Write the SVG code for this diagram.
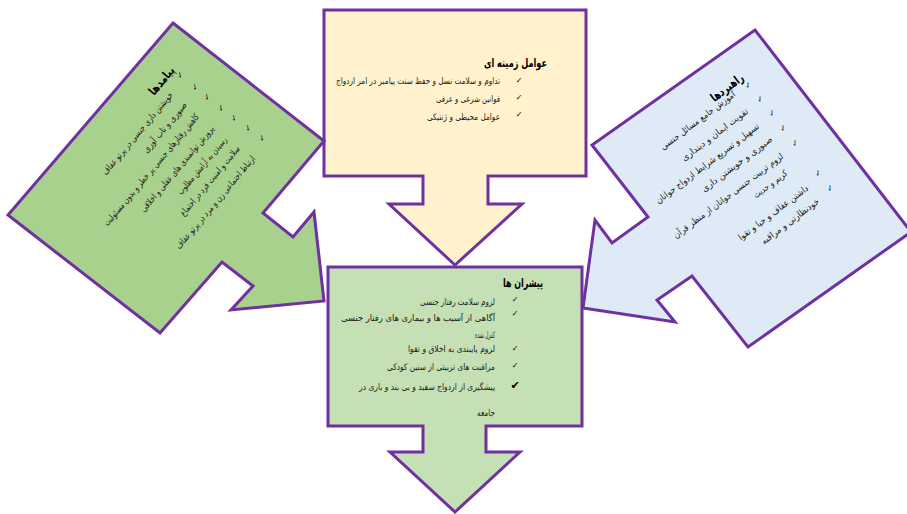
<svg xmlns="http://www.w3.org/2000/svg" width="907" height="514" viewBox="0 0 907 514">
<style>
.shape{stroke:#7030a0;stroke-width:3;stroke-linejoin:miter}
.t{font-family:"DejaVu Sans",sans-serif;font-size:9px;fill:#1a1a1a;text-anchor:end}
.h{font-family:"DejaVu Sans",sans-serif;font-size:12px;font-weight:bold;fill:#000;text-anchor:end}
.ck{font-family:"DejaVu Sans",sans-serif;font-size:8px;fill:#000;text-anchor:middle}
</style>
<rect width="907" height="514" fill="#fff"/>
<g id="node-top">
<polygon class="shape" fill="#fff2cc" points="324,10 586,10 586,176 488,176 488,204 522,204 455,265 389,204 423,204 423,176 324,176"/>
<text class="h" x="547" y="67" textLength="63" lengthAdjust="spacingAndGlyphs">عوامل زمینه ای</text>
<text class="ck" x="519" y="83">✓</text>
<text class="ck" x="519" y="100">✓</text>
<text class="ck" x="519" y="117">✓</text>
<text class="t" x="500" y="84" textLength="164" lengthAdjust="spacingAndGlyphs">تداوم و سلامت نسل و حفظ سنت پیامبر در امر ازدواج</text>
<text class="t" x="500" y="102" textLength="64" lengthAdjust="spacingAndGlyphs">قوانین شرعی و عرفی</text>
<text class="t" x="500" y="120" textLength="73" lengthAdjust="spacingAndGlyphs">عوامل محیطی و ژنتیکی</text>
</g>
<g id="node-left">
<polygon class="shape" fill="#a9d18e" points="173,23 324,141 263,213 293,237 314,212 324,301 231,310 253,286 222,262 160,333 8,215"/>
<g transform="translate(172,68) rotate(-50)"><text class="h" dy="0.35em" textLength="33" lengthAdjust="spacingAndGlyphs">پیامدها</text></g>
<g transform="translate(180,75) rotate(-50)"><text class="ck" dy="0.35em">✓</text></g>
<g transform="translate(195,87) rotate(-50)"><text class="ck" dy="0.35em">✓</text></g>
<g transform="translate(207,97) rotate(-50)"><text class="ck" dy="0.35em">✓</text></g>
<g transform="translate(221,108) rotate(-50)"><text class="ck" dy="0.35em">✓</text></g>
<g transform="translate(234,118) rotate(-50)"><text class="ck" dy="0.35em">✓</text></g>
<g transform="translate(248,128) rotate(-50)"><text class="ck" dy="0.35em">✓</text></g>
<g transform="translate(262,138) rotate(-50)"><text class="ck" dy="0.35em">✓</text></g>
<g transform="translate(171,93) rotate(-50)"><text class="t" dy="0.35em" textLength="105" lengthAdjust="spacingAndGlyphs">خویشتن داری جنسی در پرتو عفاف</text></g>
<g transform="translate(185,103) rotate(-50)"><text class="t" dy="0.35em" textLength="63" lengthAdjust="spacingAndGlyphs">صبوری و تاب آوری</text></g>
<g transform="translate(197,115) rotate(-50)"><text class="t" dy="0.35em" textLength="143" lengthAdjust="spacingAndGlyphs">کاهش رفتارهای جنسی پر خطر و بدون مسئولیت</text></g>
<g transform="translate(212,127) rotate(-50)"><text class="t" dy="0.35em" textLength="109" lengthAdjust="spacingAndGlyphs">پرورش توانمندی های عقلی و اخلاقی</text></g>
<g transform="translate(225,138) rotate(-50)"><text class="t" dy="0.35em" textLength="72" lengthAdjust="spacingAndGlyphs">رسیدن به آرامش مطلوب</text></g>
<g transform="translate(238,147) rotate(-50)"><text class="t" dy="0.35em" textLength="88" lengthAdjust="spacingAndGlyphs">سلامت و امنیت فرد در اجتماع</text></g>
<g transform="translate(253,157) rotate(-50)"><text class="t" dy="0.35em" textLength="118" lengthAdjust="spacingAndGlyphs">ارتباط اجتماعی زن و مرد در پرتو عفاف</text></g>
</g>
<g id="node-right">
<polygon class="shape" fill="#deebf7" points="755,30 911,232 748,347 692,276 657,300 675,322 583,308 595,220 612,243 648,217 592,145"/>
<g transform="translate(742,76) rotate(-37)"><text class="h" dy="0.35em" textLength="38" lengthAdjust="spacingAndGlyphs">راهبردها</text></g>
<g transform="translate(748,85) rotate(-37)"><text class="ck" dy="0.35em">✓</text></g>
<g transform="translate(760,99) rotate(-37)"><text class="ck" dy="0.35em">✓</text></g>
<g transform="translate(772,113) rotate(-37)"><text class="ck" dy="0.35em">✓</text></g>
<g transform="translate(783,128) rotate(-37)"><text class="ck" dy="0.35em">✓</text></g>
<g transform="translate(795,143) rotate(-37)"><text class="ck" dy="0.35em">✓</text></g>
<g transform="translate(818,173) rotate(-37)"><text class="ck" dy="0.35em">✓</text></g>
<g transform="translate(830,188) rotate(-37)"><text class="ck" dy="0.35em">✓</text></g>
<g transform="translate(734,93) rotate(-37)"><text class="t" dy="0.35em" textLength="91" lengthAdjust="spacingAndGlyphs">آموزش جامع مسائل جنسی</text></g>
<g transform="translate(747,110) rotate(-37)"><text class="t" dy="0.35em" textLength="81" lengthAdjust="spacingAndGlyphs">تقویت ایمان و دینداری</text></g>
<g transform="translate(758,125) rotate(-37)"><text class="t" dy="0.35em" textLength="127" lengthAdjust="spacingAndGlyphs">تسهیل و تسریع شرایط ازدواج جوانان</text></g>
<g transform="translate(771,138) rotate(-37)"><text class="t" dy="0.35em" textLength="86" lengthAdjust="spacingAndGlyphs">صبوری و خویشتن داری</text></g>
<g transform="translate(782,155) rotate(-37)"><text class="t" dy="0.35em" textLength="135" lengthAdjust="spacingAndGlyphs">لزوم تربیت جنسی جوانان از منظر قرآن</text></g>
<g transform="translate(786,172) rotate(-37)"><text class="t" dy="0.35em" textLength="40" lengthAdjust="spacingAndGlyphs">کریم و حدیث</text></g>
<g transform="translate(807,187) rotate(-37)"><text class="t" dy="0.35em" textLength="85" lengthAdjust="spacingAndGlyphs">داشتن عفاف و حیا و تقوا</text></g>
<g transform="translate(818,200) rotate(-37)"><text class="t" dy="0.35em" textLength="70" lengthAdjust="spacingAndGlyphs">خودنظارتی و مراقبه</text></g>
</g>
<g id="node-bottom">
<polygon class="shape" fill="#c5e0b4" points="328,267 582,267 582,426 486,426 486,452 520,452 455,512 390,452 423,452 423,426 328,426"/>
<text class="h" x="543" y="287" textLength="40" lengthAdjust="spacingAndGlyphs">پیشران ها</text>
<text class="ck" x="515" y="302">✓</text>
<text class="ck" x="515" y="316">✓</text>
<text class="ck" x="515" y="351">✓</text>
<text class="ck" x="515" y="368">✓</text>
<text class="ck" x="515" y="389" style="font-size:11px">✔</text>
<text class="t" x="495" y="305" textLength="75" lengthAdjust="spacingAndGlyphs">لزوم سلامت رفتار جنسی</text>
<text class="t" x="495" y="321" textLength="154" lengthAdjust="spacingAndGlyphs">آگاهی از آسیب ها و بیماری های رفتار جنسی</text>
<text class="t" x="495" y="338" textLength="20" lengthAdjust="spacingAndGlyphs">کنترل نشده</text>
<text class="t" x="495" y="352" textLength="87" lengthAdjust="spacingAndGlyphs">لزوم پایبندی به اخلاق و تقوا</text>
<text class="t" x="495" y="370" textLength="108" lengthAdjust="spacingAndGlyphs">مراقبت های تربیتی از سنین کودکی</text>
<text class="t" x="495" y="390" textLength="136" lengthAdjust="spacingAndGlyphs">پیشگیری از ازدواج سفید و بی بند و باری در</text>
<text class="t" x="495" y="416" textLength="18" lengthAdjust="spacingAndGlyphs">جامعه</text>
</g>
<g id="connectors"/>
</svg>
